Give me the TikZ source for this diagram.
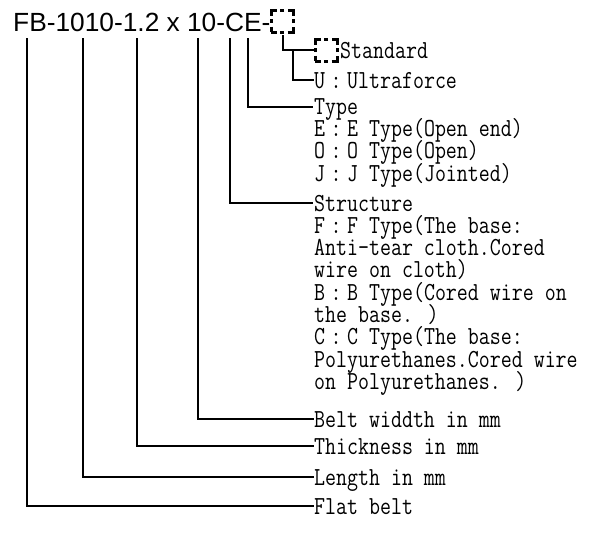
\documentclass[tikz,border=0pt]{standalone}
\usepackage{fontspec}
\newfontfamily\titlefont{Liberation Sans}
\newfontfamily\codefont[FakeStretch=0.82]{Latin Modern Mono}
\newcommand{\fcol}{\makebox[22pt]{:}}
\lineskiplimit=-50pt

\tikzset{
  lead/.style={line width=1.6pt},
  code/.style={font=\codefont\fontsize{26}{22.3}\selectfont, anchor=base west, inner sep=0pt, align=left},
  blank/.style={draw, line width=3pt, dash pattern=on 11pt off 3.5pt on 4pt off 3.5pt, dash phase=5.5pt, minimum size=22pt, inner sep=0pt}
}

\begin{document}
\begin{tikzpicture}[x=1pt,y=-1pt]
\useasboundingbox (0,0) rectangle (599,550);

    \node[font=\titlefont\fontsize{26.3}{30}\selectfont, anchor=base west, inner sep=0pt] (code) at (13,31.5) {FB-1010-1.2 x 10-CE-};
    \node[blank] (blank0) at (282,21) {};

    % drops from the code
    \coordinate (fb)  at (27,38);
    \coordinate (len) at (83,38);
    \coordinate (thk) at (137,38);
    \coordinate (wid) at (198,38);
    \coordinate (str) at (230,38);
    \coordinate (typ) at (248,38);
    \coordinate (sel) at (283,35);
    \coordinate (ult) at (293,51);
    \coordinate (typend) at (313,107);
    \coordinate (strend) at (313,203);

    % texts (multi-line nodes sit on their last line)
    \node[blank] (blank1) at (326,50) {};
    \node[code] (stdtxt) at (340,58) {Standard};
    \node[code] (ulttxt) at (314,88) {U\fcol Ultraforce};
    \node[code] (typtxt) at (314,181) {Type\\
      E\fcol E Type(Open end)\\
      O\fcol O Type(Open)\\
      J\fcol J Type(Jointed)};
    \node[code] (strtxt) at (314,389.4) {Structure\\
      F\fcol F Type(The base:\\
      Anti-tear cloth.Cored\\
      wire on cloth)\\
      B\fcol B Type(Cored wire on\\
      the base. )\\
      C\fcol C Type(The base:\\
      Polyurethanes.Cored wire\\
      on Polyurethanes. )};
    \node[code] (widtxt) at (314,427) {Belt widdth in mm};
    \node[code] (thktxt) at (314,454) {Thickness in mm};
    \node[code] (lentxt) at (314,485) {Length in mm};
    \node[code] (fbtxt) at (314,514) {Flat belt};

    \draw[lead] (sel) |- (blank1.west);
    \draw[lead] (ult) |- ([yshift=8pt]ulttxt.base west);
    \draw[lead] (typ) |- (typend);
    \draw[lead] (str) |- (strend);
    \draw[lead] (wid) |- ([yshift=8pt]widtxt.base west);
    \draw[lead] (thk) |- ([yshift=8pt]thktxt.base west);
    \draw[lead] (len) |- ([yshift=8pt]lentxt.base west);
    \draw[lead] (fb) |- ([yshift=8pt]fbtxt.base west);
\end{tikzpicture}
\end{document}
